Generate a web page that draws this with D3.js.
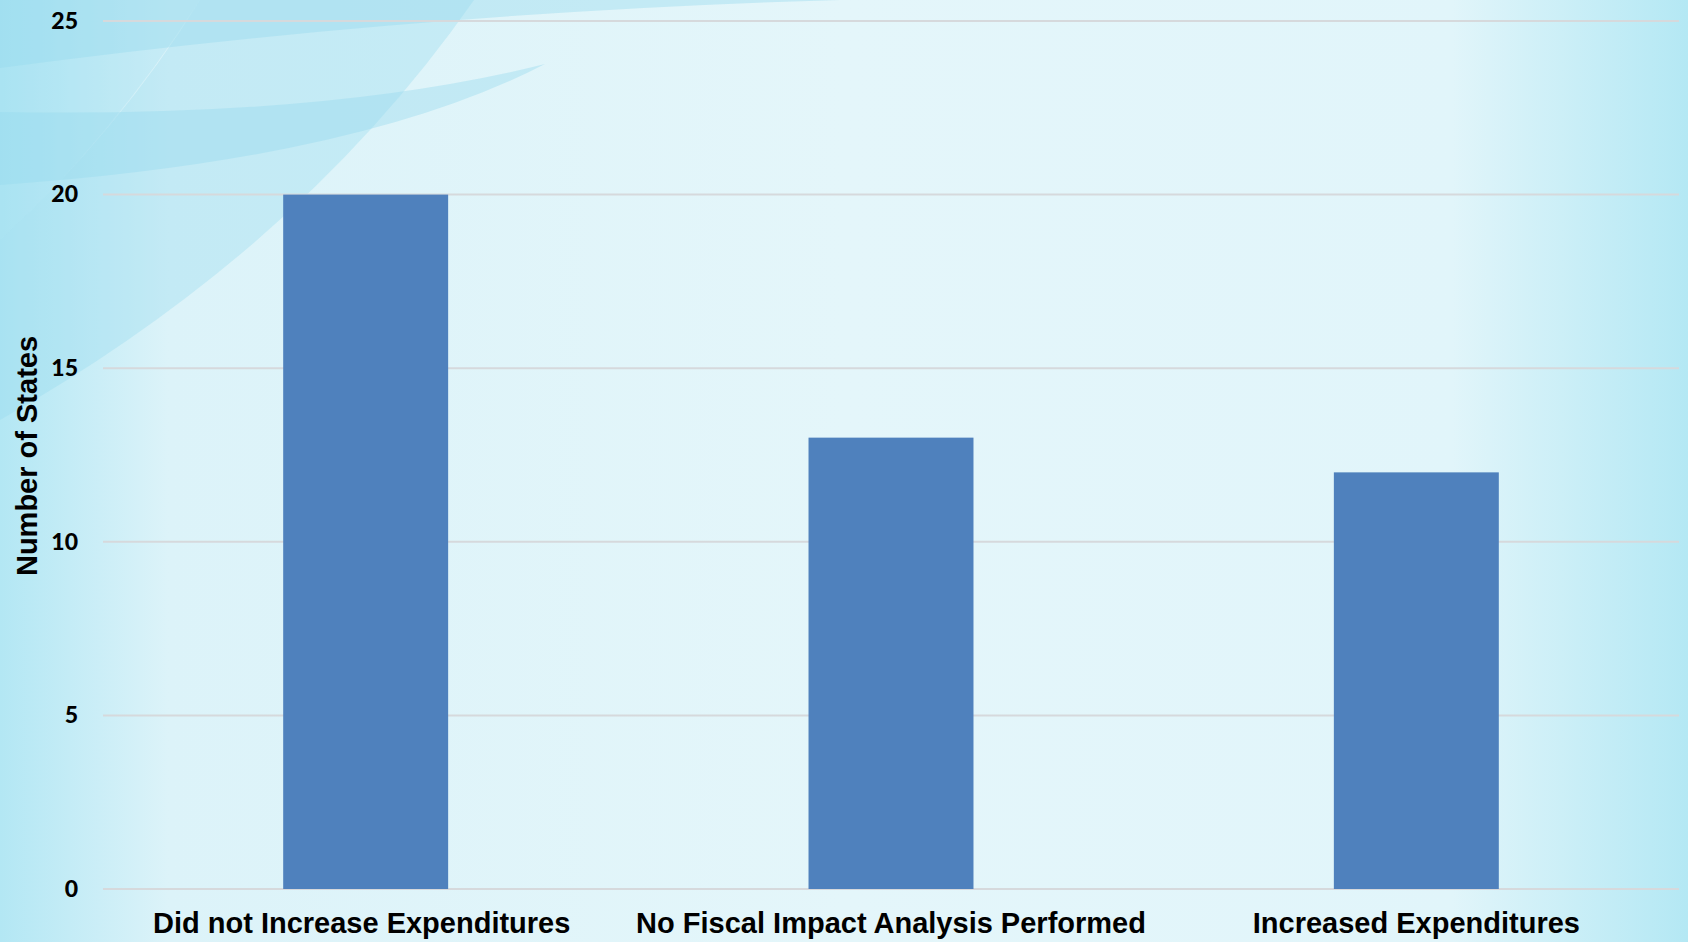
<!DOCTYPE html>
<html>
<head>
<meta charset="utf-8">
<script src="https://cdn.jsdelivr.net/npm/d3@7"></script>
<style>
  html, body { margin: 0; padding: 0; overflow: hidden; }
  svg { display: block; }
</style>
</head>
<body>
<svg id="chart" width="1688" height="942"></svg>
<script>
// chart data
const categories = ['Did not Increase Expenditures', 'No Fiscal Impact Analysis Performed', 'Increased Expenditures'];
const values = [20, 13, 12];
const yTicks = [0, 5, 10, 15, 20, 25];
const yTitle = 'Number of States';

const width = 1688;
const height = 942;
const margin = { top: 21, right: 9, bottom: 53, left: 103 };

const svg = d3.select('#chart');

// background gradient, darker at the left and right edges
const defs = svg.append('defs');
const bg = defs.append('linearGradient').attr('id', 'bg').attr('x1', 0).attr('x2', 1).attr('y1', 0).attr('y2', 0);
bg.append('stop').attr('offset', '0%').attr('stop-color', '#b3e7f4');
bg.append('stop').attr('offset', '10%').attr('stop-color', '#dcf3f9');
bg.append('stop').attr('offset', '50%').attr('stop-color', '#e4f6fa');
bg.append('stop').attr('offset', '86%').attr('stop-color', '#e1f5fa');
bg.append('stop').attr('offset', '100%').attr('stop-color', '#b4e8f4');
svg.append('rect').attr('width', width).attr('height', height).attr('fill', 'url(#bg)');

// decorative swooshes in the top-left corner
const deco = svg.append('g').attr('fill', '#96d9ee');
deco.append('path').attr('opacity', 0.4)
  .attr('d', 'M0,0 L840,0 Q420,12 0,68 Z');
deco.append('path').attr('opacity', 0.4)
  .attr('d', 'M0,112 Q330,118 545,64 Q360,160 0,185 Z');
deco.append('path').attr('opacity', 0.35)
  .attr('d', 'M200,0 Q120,130 0,240 L0,420 Q300,250 474,0 Z');
deco.append('path').attr('opacity', 0.3)
  .attr('d', 'M0,0 L200,0 Q110,140 0,240 Z');

const x = d3.scaleBand()
  .domain(categories)
  .range([margin.left, width - margin.right])
  .paddingInner(0.686)
  .paddingOuter(0.343);

const y = d3.scaleLinear()
  .domain([0, 25])
  .range([height - margin.bottom, margin.top]);

// gridlines
svg.append('g')
  .selectAll('line')
  .data(yTicks)
  .join('line')
  .attr('x1', margin.left)
  .attr('x2', width - margin.right)
  .attr('y1', d => y(d))
  .attr('y2', d => y(d))
  .attr('stroke', '#d6d9dc')
  .attr('stroke-width', 2);

// bars
svg.append('g')
  .selectAll('rect')
  .data(values)
  .join('rect')
  .attr('x', (d, i) => x(categories[i]))
  .attr('y', d => y(d))
  .attr('width', x.bandwidth())
  .attr('height', d => y(0) - y(d))
  .attr('fill', '#4f81bd');

// y axis labels
const yAxis = svg.append('g')
  .attr('transform', `translate(${margin.left - 25},0)`)
  .call(d3.axisLeft(y).tickValues(yTicks).tickSize(0).tickPadding(0));
yAxis.select('.domain').remove();
yAxis.selectAll('text')
  .attr('font-family', 'Lato, "Open Sans", sans-serif')
  .attr('font-weight', 900)
  .attr('font-size', 23)
  .attr('fill', '#000');

// x axis labels
const xAxis = svg.append('g')
  .attr('transform', `translate(0,${y(0)})`)
  .call(d3.axisBottom(x).tickSize(0).tickPadding(23));
xAxis.select('.domain').remove();
xAxis.selectAll('text')
  .attr('font-family', '"Liberation Sans", Arial, sans-serif')
  .attr('font-weight', 'bold')
  .attr('font-size', 29)
  .attr('fill', '#000')
  .attr('dx', (d, i) => i === 0 ? -4 : 0);

// y axis title
svg.append('text')
  .attr('transform', `translate(37,${(y(0) + y(25)) / 2 + 1}) rotate(-90)`)
  .attr('text-anchor', 'middle')
  .attr('font-family', '"Liberation Sans", Arial, sans-serif')
  .attr('font-weight', 'bold')
  .attr('font-size', 29)
  .attr('fill', '#000')
  .text(yTitle);
</script>
</body>
</html>
